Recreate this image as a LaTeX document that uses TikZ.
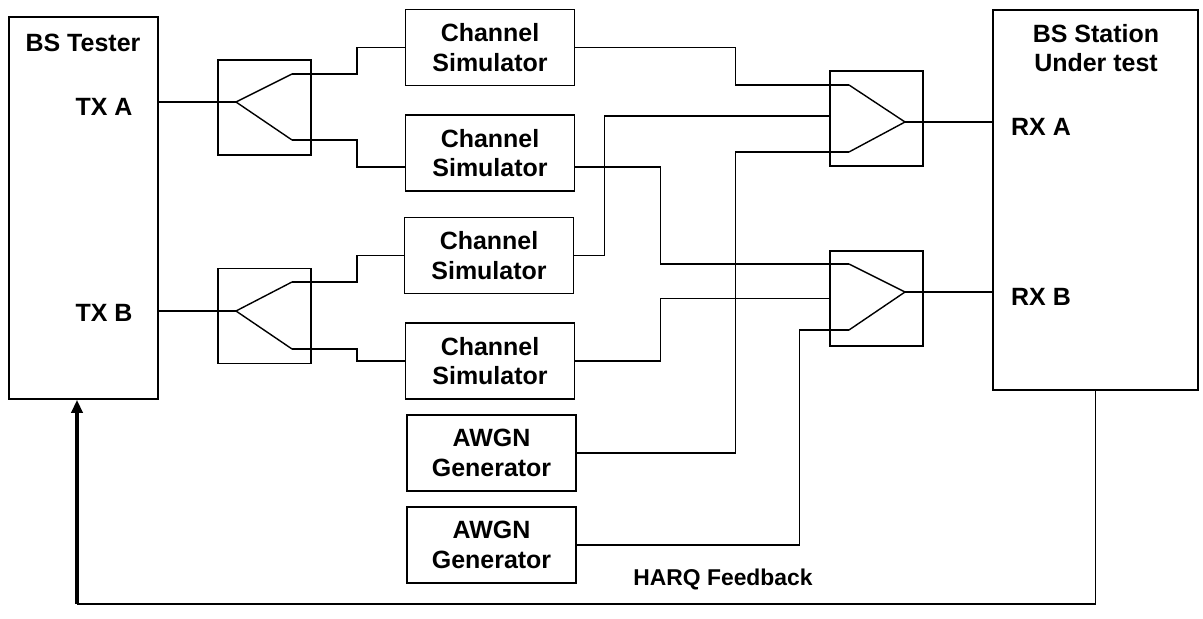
\documentclass[tikz,border=0pt]{standalone}
\usepackage{fontspec}
\setmainfont{Liberation Sans}
\usetikzlibrary{arrows.meta,positioning}

\begin{document}
\begin{tikzpicture}[x=0.01cm, y=-0.01cm,
  every node/.style={font=\fontsize{7.1}{8.3}\selectfont\bfseries},
  unit/.style={draw, minimum width=1.69cm, minimum height=0.76cm, align=center, inner sep=0pt},
  rack/.style={draw, inner sep=0pt},
  sw/.style={draw, minimum width=0.93cm, minimum height=0.95cm, inner sep=0pt},
  fb/.style={-{Triangle[length=0.13cm, width=0.11cm]}, line width=1.1pt}
]
  \useasboundingbox (0,0) rectangle (1203,619);

  % tester and station under test
  \node[rack, minimum width=1.49cm, minimum height=3.82cm] (tester) at (83.5,208) {};
  \node (testerlbl) at (83,43) {BS Tester};
  \node (txa) at (104,107) {TX A};
  \node (txb) at (104,313) {TX B};

  \node[rack, minimum width=2.05cm, minimum height=3.80cm] (station) at (1095.5,200) {};
  \node[align=center] (stationlbl) at (1096,48) {BS Station\\Under test};
  \node (rxa) at (1041,127) {RX A};
  \node (rxb) at (1041,297) {RX B};

  % splitters and combiners
  \node[sw] (spla) at (264.5,107.5) {};
  \node[sw] (splb) at (264.5,316) {};
  \node[sw] (cmba) at (876.5,118.5) {};
  \node[sw] (cmbb) at (876.5,298.5) {};
  \coordinate (spla-in) at (236,102);
  \coordinate (spla-o1) at (292,74);
  \coordinate (spla-o2) at (292,140);
  \coordinate (splb-in) at (236,311);
  \coordinate (splb-o1) at (292,282);
  \coordinate (splb-o2) at (292,349);
  \coordinate (cmba-i1) at (849,85);
  \coordinate (cmba-i2) at (849,152);
  \coordinate (cmba-out) at (905,122);
  \coordinate (cmbb-i1) at (849,264);
  \coordinate (cmbb-i2) at (849,330);
  \coordinate (cmbb-out) at (905,292);

  % channel simulators and noise
  \node[unit] (chsa) at (490,47.5) {Channel\\Simulator};
  \node[unit] (chsb) at (490,153) {Channel\\Simulator};
  \node[unit] (chsc) at (489,255.5) {Channel\\Simulator};
  \node[unit] (chsd) at (490,361) {Channel\\Simulator};
  \node[unit] (awgna) at (491.5,453) {AWGN\\Generator};
  \node[unit] (awgnb) at (491.5,545) {AWGN\\Generator};

  % TX side
  \draw (tester.east |- spla-in) -- (spla-in);
  \draw (tester.east |- splb-in) -- (splb-in);
  \draw (spla-o1) -- (spla-in) -- (spla-o2);
  \draw (splb-o1) -- (splb-in) -- (splb-o2);
  \draw (spla-o1) -- ++(65,0) |- (chsa.west);
  \draw (spla-o2) -- ++(65,0) |- ([yshift=-0.14cm]chsb.west);
  \draw (splb-o1) -- ++(65,0) |- (chsc.west);
  \draw (splb-o2) -- ++(65,0) |- (chsd.west);

  % RX side
  \draw (chsa.east) -- ++(160,0) |- (cmba-i1);
  \draw ([yshift=-0.14cm]chsb.east) -- ++(85,0) |- (cmbb-i1);
  \draw (chsc.east) -- ++(30,0) |- ([yshift=0.025cm]cmba.west);
  \draw (chsd.east) -- ++(85,0) |- (cmbb.west);
  \draw (awgna.east) -- ++(159,0) |- (cmba-i2);
  \draw (awgnb.east) -- ++(223,0) |- (cmbb-i2);
  \draw (cmba-i1) -- (cmba-out) -- (cmba-i2);
  \draw (cmbb-i1) -- (cmbb-out) -- (cmbb-i2);
  \draw (cmba-out) -- (station.west |- cmba-out);
  \draw (cmbb-out) -- (station.west |- cmbb-out);

  % feedback
  \coordinate (fbturn) at (77,604);
  \draw (station.south) |- (fbturn);
  \draw[fb] (fbturn) -- (fbturn |- tester.south);
  \node[font=\fontsize{6.5}{7.5}\selectfont\bfseries] (harq) at (723,579) {HARQ Feedback};
\end{tikzpicture}
\end{document}
